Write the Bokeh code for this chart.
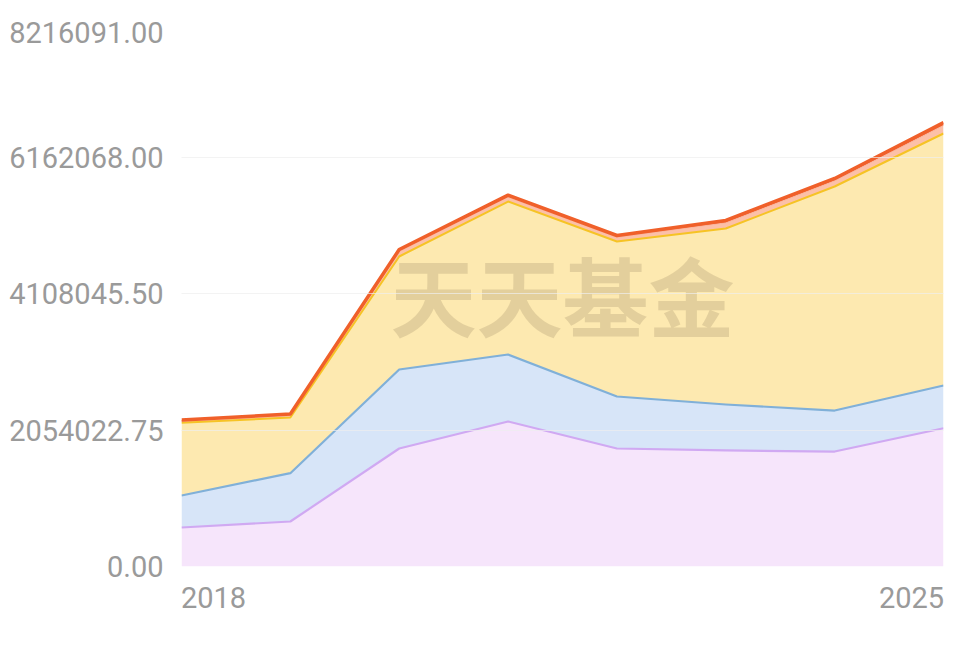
from bokeh.plotting import figure
from bokeh.models import (ColumnDataSource, Label, Grid, FixedTicker, Range1d,
                          LinearAxis)
from bokeh.transform import stack
from bokeh.embed import file_html
from bokeh.resources import INLINE

years = [2018, 2019, 2020, 2021, 2022, 2023, 2024, 2025]
purple = [587000, 677000, 1776000, 2182000, 1776000, 1746000, 1730000, 2081000]
blue = [481000, 727000, 1188000, 1008000, 782000, 692000, 617000, 643000]
yellow = [1094000, 838000, 1701000, 2302000, 2333000, 2648000, 3371000, 3792000]
salmon = [27000, 35000, 75000, 66000, 62000, 86000, 86000, 120000]
red = [15000, 18000, 30000, 30000, 28000, 35000, 35000, 45000]

y_ticks = [0, 2054022.75, 4108045.5, 6162068, 8216091]
y_labels = ["0.00", "2054022.75", "4108045.50", "6162068.00", "8216091.00"]
x_labels = ["2018", "2025"]

names = ["purple", "blue", "yellow", "salmon", "red"]
fills = ["#f6e5fb", "#d7e5f8", "#fde9b0", "#fcc0a8", "#f26636"]
lines = ["#d0a9f2", "#80b0d8", "#f6c325", "#fbb49c", "#f0602a"]
widths = [2.2, 2.2, 2, 1, 3.5]

FRAME_W, FRAME_H = 762, 546
LEFT, TOP, RIGHT, BOTTOM = 181, 20, 25, 71

src = ColumnDataSource(dict(x=years, purple=purple, blue=blue, yellow=yellow,
                            salmon=salmon, red=red))

p = figure(width=LEFT + FRAME_W + RIGHT, height=TOP + FRAME_H + BOTTOM,
           x_range=Range1d(years[0], years[-1]),
           y_range=Range1d(y_ticks[0], y_ticks[-1]),
           x_axis_type=None, y_axis_type=None,
           output_backend="svg", toolbar_location=None,
           min_border_left=LEFT, min_border_right=RIGHT,
           min_border_top=TOP, min_border_bottom=BOTTOM)
p.outline_line_color = None
p.background_fill_color = "white"
p.border_fill_color = "white"

p.varea_stack(stackers=names, x="x", color=fills, source=src)
for i, name in enumerate(names):
    p.line(x="x", y=stack(*names[:i + 1]), line_color=lines[i],
           line_width=widths[i], line_join="round", source=src)

p.add_layout(Grid(dimension=1, ticker=FixedTicker(ticks=y_ticks),
                  grid_line_color="#eeeeee", grid_line_alpha=0.7, level="overlay"))

p.add_layout(Label(x=(years[0] + years[-1]) / 2, y=y_ticks[2], text="天天基金",
                   text_align="center", text_baseline="middle",
                   text_font="Noto Sans CJK SC", text_font_style="bold",
                   text_font_size="86px", text_color="#a8946c", text_alpha=0.3))

# y axis: the top label sits a little below its gridline, as in the original
y_per_px = (y_ticks[-1] - y_ticks[0]) / FRAME_H
y_pos = list(y_ticks[:-1]) + [y_ticks[-1] - 12 * y_per_px]
yaxis = LinearAxis(ticker=FixedTicker(ticks=y_pos),
                   major_label_overrides={v: t for v, t in zip(y_pos, y_labels)},
                   axis_line_color=None, major_tick_line_color=None,
                   minor_tick_line_color=None, major_label_standoff=12,
                   major_label_text_font="Roboto",
                   major_label_text_font_size="29px",
                   major_label_text_color="#9a9a9a")
p.add_layout(yaxis, "left")

# x axis: first label left-aligned at the start, last right-aligned at the end
x_per_px = (years[-1] - years[0]) / FRAME_W
half = 32 * x_per_px
x_pos = [years[0] + half, years[-1] - half]
xaxis = LinearAxis(ticker=FixedTicker(ticks=x_pos),
                   major_label_overrides={v: t for v, t in zip(x_pos, x_labels)},
                   axis_line_color=None, major_tick_line_color=None,
                   minor_tick_line_color=None, major_label_standoff=14,
                   major_label_text_font="Roboto",
                   major_label_text_font_size="29px",
                   major_label_text_color="#9a9a9a")
p.add_layout(xaxis, "below")

open("out.html", "w").write(file_html(p, INLINE))
